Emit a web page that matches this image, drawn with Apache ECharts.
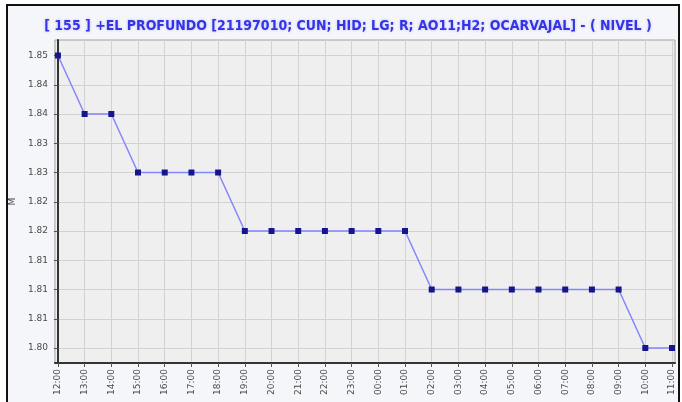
<!DOCTYPE html>
<html>
<head>
<meta charset="utf-8">
<script src="https://cdn.jsdelivr.net/npm/echarts@6/dist/echarts.min.js"></script>
<style>
  html, body { margin: 0; padding: 0; background: #fff; }
  #main { width: 682px; height: 402px; }
</style>
</head>
<body>
<div id="main"></div>
<script>
// categorias (horas) y valores de nivel
var horas = ['12:00', '13:00', '14:00', '15:00', '16:00', '17:00', '18:00', '19:00', '20:00', '21:00', '22:00', '23:00',
    '00:00', '01:00', '02:00', '03:00', '04:00', '05:00', '06:00', '07:00', '08:00', '09:00', '10:00', '11:00'];
var nivel = [1.85, 1.84, 1.84, 1.83, 1.83, 1.83, 1.83, 1.82, 1.82, 1.82, 1.82, 1.82,
    1.82, 1.82, 1.81, 1.81, 1.81, 1.81, 1.81, 1.81, 1.81, 1.81, 1.80, 1.80];
// marcas del eje Y y sus etiquetas (como salen en el grafico original)
var yTicks = [1.800, 1.805, 1.810, 1.815, 1.820, 1.825, 1.830, 1.835, 1.840, 1.845, 1.850];
var yLabels = ['1.80', '1.81', '1.81', '1.81', '1.82', '1.82', '1.83', '1.83', '1.84', '1.84', '1.85'];

var titulo = '[ 155 ] +EL PROFUNDO [21197010; CUN; HID; LG; R; AO11;H2; OCARVAJAL] - ( NIVEL )';

var xIdx = horas.map(function (h, i) { return i; });
var puntos = nivel.map(function (v, i) { return [i, v]; });

var myChart = echarts.init(document.getElementById('main'));
var option = {
    backgroundColor: '#fff',
    animation: false,
    graphic: [{
        type: 'rect', z: -10,
        shape: { x: 7, y: 5, width: 672, height: 402 },
        style: { fill: '#f5f6f9', stroke: '#111', lineWidth: 2 }
    }],
    title: {
        text: titulo,
        left: 343, top: 14, textAlign: 'center',
        textStyle: {
            color: '#3434e6', fontSize: 14, fontWeight: 'bold',
            fontFamily: 'DejaVu Sans Condensed',
            textShadowColor: 'rgba(60,60,255,0.3)', textShadowBlur: 3
        }
    },
    grid: {
        left: 54, right: 7, top: 40, bottom: 39,
        show: true, backgroundColor: '#efefef', borderColor: '#a0a0a0', borderWidth: 1
    },
    xAxis: {
        type: 'value',
        min: -0.112, max: 23.112,
        axisLine: { show: true, onZero: false, lineStyle: { color: '#333', width: 2 } },
        axisTick: { show: true, customValues: xIdx, length: 4, lineStyle: { color: '#555' } },
        axisLabel: {
            customValues: xIdx, rotate: 90, margin: 6,
            fontSize: 9, color: '#4a4a4a', fontFamily: 'DejaVu Sans',
            formatter: function (v) { return horas[Math.round(v)]; }
        },
        splitLine: { show: true, lineStyle: { color: '#d2d2d2', width: 1 } }
    },
    yAxis: {
        type: 'value',
        min: 1.79744, max: 1.85265,
        name: 'M', nameLocation: 'middle', nameGap: 31, nameRotate: 90,
        nameTextStyle: { fontSize: 9, color: '#444', fontFamily: 'DejaVu Sans' },
        axisLine: { show: true, lineStyle: { color: '#333', width: 2 } },
        axisTick: { show: true, customValues: yTicks, length: 4, lineStyle: { color: '#555' } },
        axisLabel: {
            customValues: yTicks, margin: 7,
            fontSize: 9, color: '#4a4a4a', fontFamily: 'DejaVu Sans',
            formatter: function (v) {
                for (var i = 0; i < yTicks.length; i++) {
                    if (Math.abs(yTicks[i] - v) < 1e-6) return yLabels[i];
                }
                return '';
            }
        },
        splitLine: { show: true, lineStyle: { color: '#d2d2d2', width: 1 } }
    },
    series: [{
        name: 'NIVEL',
        type: 'line',
        data: puntos,
        symbol: 'rect',
        symbolSize: 6,
        itemStyle: { color: '#15158c' },
        lineStyle: { color: '#8585ff', width: 1.5 }
    }]
};
myChart.setOption(option);
</script>
</body>
</html>
